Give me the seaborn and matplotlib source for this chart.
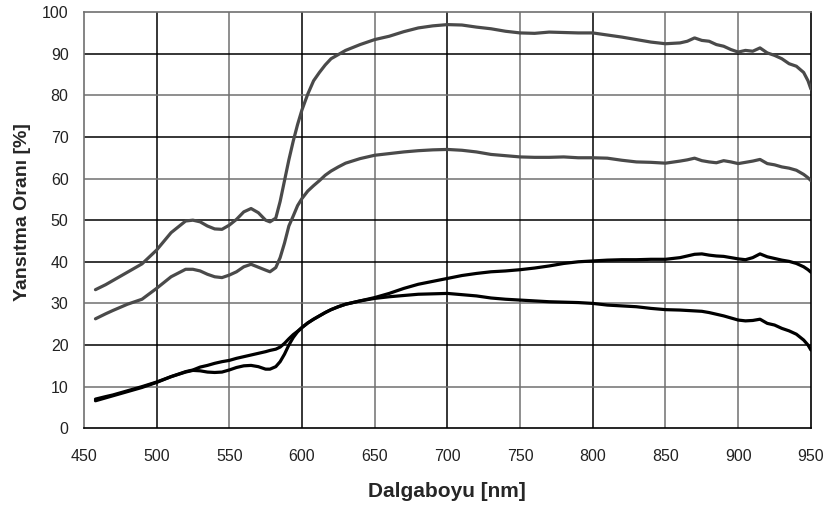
import pandas as pd
import matplotlib.pyplot as plt
import seaborn as sns

# Wavelength sample points (nm)
wavelength = [458, 465, 470, 480, 490, 500, 510, 520, 525, 530, 535, 540, 545, 550, 555,
              560, 565, 570, 575, 578, 582, 585, 588, 591, 594, 597, 600, 604, 608, 612,
              616, 620, 625, 630, 640, 650, 660, 670, 680, 690, 700, 710, 720, 730, 740,
              750, 760, 770, 780, 790, 800, 810, 820, 830, 840, 850, 860, 865, 870, 875,
              880, 885, 890, 895, 900, 905, 910, 915, 920, 925, 930, 935, 940, 945, 948, 950]

# Reflectance curves (%)
grey_top = [33.3, 34.5, 35.5, 37.5, 39.5, 42.8, 47.0, 49.8, 50.0, 49.6, 48.6, 47.9, 47.8, 48.8, 50.2,
            52.0, 52.8, 51.8, 50.0, 49.6, 50.5, 54.5, 59.5, 64.5, 69.0, 73.0, 76.5, 80.3, 83.5, 85.5,
            87.3, 88.8, 89.8, 90.8, 92.2, 93.4, 94.2, 95.3, 96.2, 96.7, 97.0, 96.9, 96.4, 96.0, 95.4,
            95.0, 94.9, 95.2, 95.1, 95.0, 95.0, 94.5, 94.0, 93.4, 92.8, 92.4, 92.6, 93.0, 93.8, 93.2,
            93.0, 92.2, 91.8, 91.0, 90.4, 90.8, 90.6, 91.4, 90.2, 89.6, 88.8, 87.6, 87.0, 85.5, 83.5, 81.5]

grey_mid = [26.3, 27.5, 28.3, 29.8, 31.0, 33.6, 36.4, 38.2, 38.2, 37.8, 37.0, 36.4, 36.2, 36.8, 37.6,
            38.8, 39.4, 38.7, 38.0, 37.6, 38.6, 41.0, 44.5, 48.6, 51.0, 53.5, 55.2, 57.0, 58.3, 59.5,
            60.8, 61.8, 62.8, 63.7, 64.8, 65.6, 66.0, 66.4, 66.7, 66.9, 67.0, 66.8, 66.4, 65.8, 65.5,
            65.2, 65.1, 65.1, 65.2, 65.0, 65.0, 64.9, 64.4, 64.0, 63.9, 63.7, 64.2, 64.5, 64.9, 64.3,
            64.0, 63.8, 64.3, 64.0, 63.6, 63.9, 64.2, 64.6, 63.6, 63.3, 62.8, 62.5, 62.0, 61.0, 60.2, 59.5]

black_up = [7.0, 7.6, 8.0, 9.0, 10.0, 11.1, 12.4, 13.6, 14.0, 14.7, 15.1, 15.6, 16.0, 16.3, 16.8,
            17.2, 17.6, 18.0, 18.4, 18.7, 19.0, 19.5, 20.4, 21.5, 22.5, 23.3, 24.2, 25.3, 26.2, 27.0,
            27.8, 28.5, 29.2, 29.8, 30.6, 31.4, 32.4, 33.6, 34.6, 35.3, 36.0, 36.7, 37.2, 37.6, 37.8,
            38.1, 38.5, 39.0, 39.6, 40.0, 40.2, 40.4, 40.5, 40.5, 40.6, 40.6, 41.0, 41.4, 41.8, 41.9,
            41.6, 41.4, 41.3, 41.0, 40.7, 40.5, 41.0, 41.9, 41.2, 40.8, 40.4, 40.1, 39.6, 38.8, 38.1, 37.5]

black_low = [6.6, 7.3, 7.8, 8.8, 9.8, 11.0, 12.4, 13.5, 13.9, 13.8, 13.5, 13.4, 13.5, 14.0, 14.6,
             15.0, 15.1, 14.8, 14.2, 14.2, 14.8, 16.0, 17.8, 20.0, 21.8, 23.2, 24.2, 25.3, 26.2, 27.0,
             27.8, 28.5, 29.2, 29.8, 30.6, 31.2, 31.6, 31.9, 32.2, 32.3, 32.4, 32.1, 31.8, 31.3, 31.0,
             30.8, 30.6, 30.4, 30.3, 30.2, 30.0, 29.6, 29.4, 29.2, 28.8, 28.5, 28.4, 28.3, 28.2, 28.1,
             27.8, 27.4, 27.0, 26.5, 26.0, 25.8, 25.9, 26.2, 25.2, 24.8, 24.0, 23.4, 22.6, 21.2, 20.0, 18.8]

series = {"grey_top": grey_top, "grey_mid": grey_mid,
          "black_up": black_up, "black_low": black_low}
colors = {"grey_top": "#4a4a4a", "grey_mid": "#4a4a4a",
          "black_up": "#000000", "black_low": "#000000"}

df = pd.concat([pd.DataFrame({"wl": wavelength, "r": v, "s": k}) for k, v in series.items()])

sns.set_style("white")
plt.rcParams['font.family'] = ['Liberation Sans', 'DejaVu Sans']

fig = plt.figure(figsize=(8.3, 5.05), dpi=100)
ax = fig.add_axes([0.101, 0.152, 0.876, 0.824])

# grid lines, some darker than others like the original
for x in range(500, 950, 50):
    c = "#000000" if x in (500, 600, 700, 800) else "#707070"
    ax.axvline(x, color=c, lw=1.1, zorder=1)
for y in range(10, 100, 10):
    c = "#000000" if y in (20, 40, 50, 70, 90) else "#707070"
    ax.axhline(y, color=c, lw=1.1, zorder=1)

sns.lineplot(data=df, x="wl", y="r", hue="s", palette=colors, lw=2.3,
             legend=False, ax=ax, zorder=3, sort=False, estimator=None)

ax.set_xlim(450, 950)
ax.set_ylim(0, 100)
ax.set_xticks(range(450, 951, 50))
ax.set_yticks(range(0, 101, 10))

for side in ["left", "top"]:
    ax.spines[side].set_color("#707070")
for side in ["right", "bottom"]:
    ax.spines[side].set_color("#000000")
for s in ax.spines.values():
    s.set_linewidth(1.2)

ax.tick_params(axis="both", which="major", length=5, width=1.1,
               labelsize=11.5, direction="out")
ax.tick_params(axis="x", pad=10)
ax.tick_params(axis="y", pad=6)
ax.tick_params(axis="both", colors="#555555", labelcolor="#222222")

ax.set_xlabel("Dalgaboyu [nm]", fontsize=15, fontweight="bold", labelpad=13)
ax.set_ylabel("Yansıtma Oranı [%]", fontsize=14, fontweight="bold", labelpad=3)
ax.yaxis.set_label_coords(-0.072, 0.52)

plt.savefig("out.png", dpi=100)
